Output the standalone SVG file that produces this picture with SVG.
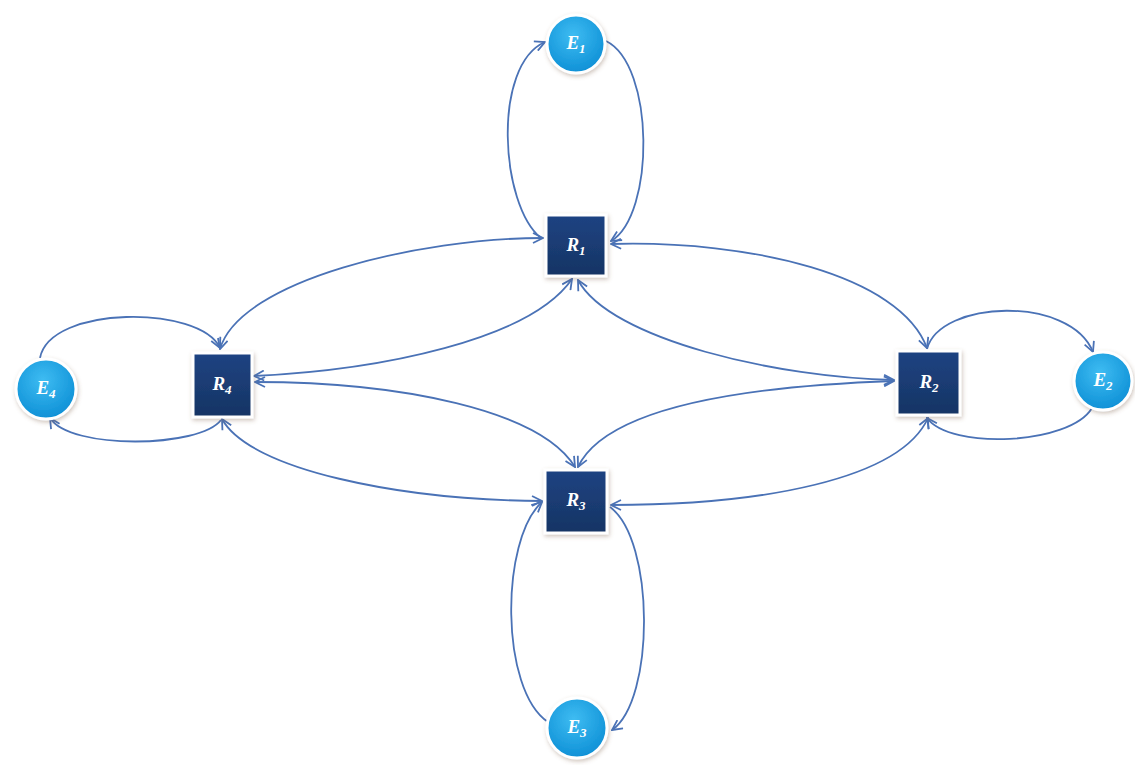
<svg xmlns="http://www.w3.org/2000/svg" width="1135" height="765" viewBox="0 0 1135 765">
<defs>
<style>
.c{fill:none;stroke:#4a72b6;stroke-width:1.8}
.rr{marker-start:url(#ah);marker-end:url(#ah)}
.one{marker-end:url(#ah)}
.r{fill:url(#rg);stroke:#ffffff;stroke-width:3;filter:url(#sh)}
.e{fill:url(#eg);stroke:#ffffff;stroke-width:3;filter:url(#sh)}
.t{font-family:"Liberation Serif","DejaVu Serif",serif;font-style:italic;font-weight:bold;fill:#ffffff;font-size:19px}
.s{font-size:13px}
</style>
<linearGradient id="rg" x1="0" y1="0" x2="0" y2="1">
<stop offset="0" stop-color="#1e4382"/>
<stop offset="1" stop-color="#163464"/>
</linearGradient>
<radialGradient id="eg" cx="0.45" cy="0.35" r="0.7">
<stop offset="0" stop-color="#3ebcf2"/>
<stop offset="1" stop-color="#0b8dd4"/>
</radialGradient>
<filter id="sh" x="-30%" y="-30%" width="160%" height="160%">
<feDropShadow dx="1" dy="2" stdDeviation="2" flood-color="#7a5a40" flood-opacity="0.35"/>
</filter>
<marker id="ah" viewBox="0 0 12 12" refX="11" refY="6" markerWidth="12" markerHeight="12" markerUnits="userSpaceOnUse" orient="auto-start-reverse">
<path d="M1,1 L11,6 L1,11" fill="none" stroke="#4a72b6" stroke-width="1.8"/>
</marker>
</defs>
<rect width="1135" height="765" fill="#ffffff"/>
<g id="connectors">
<path class="c one" d="M541 238 C500 205 492 65 545 42"/>
<path class="c one" d="M606 41 C655 65 655 215 611 241"/>
<path class="c one" d="M927 349 C940 300 1070 295 1093 352"/>
<path class="c one" d="M1092 408 C1070 445 950 450 927 418"/>
<path class="c one" d="M610 507 C655 540 655 700 612 730"/>
<path class="c one" d="M548 722 C500 690 500 540 542 502"/>
<path class="c one" d="M40 358 C50 305 200 305 220 348"/>
<path class="c one" d="M221 420 C200 448 70 450 50 418"/>
<path class="c rr" d="M220 349 C240 280 420 238 543 238"/>
<path class="c rr" d="M254 376 C380 370 530 340 572 279"/>
<path class="c rr" d="M611 244 C750 240 900 275 927 348"/>
<path class="c rr" d="M578 280 C610 340 780 378 894 380"/>
<path class="c rr" d="M255 382 C400 382 540 410 575 467"/>
<path class="c rr" d="M222 419 C250 470 400 500 542 501"/>
<path class="c rr" d="M578 467 C610 400 780 385 894 381"/>
<path class="c rr" d="M611 505 C760 505 900 480 928 418"/>
</g>
<g id="E1"><circle class="e" cx="576" cy="44" r="29"/><text class="t" x="576" y="49" text-anchor="middle">E<tspan class="s" dy="4">1</tspan></text></g>
<g id="E2"><circle class="e" cx="1103" cy="381" r="29"/><text class="t" x="1103" y="386" text-anchor="middle">E<tspan class="s" dy="4">2</tspan></text></g>
<g id="E3"><circle class="e" cx="577" cy="728" r="30"/><text class="t" x="577" y="733" text-anchor="middle">E<tspan class="s" dy="4">3</tspan></text></g>
<g id="E4"><circle class="e" cx="46" cy="389" r="30"/><text class="t" x="46" y="394" text-anchor="middle">E<tspan class="s" dy="4">4</tspan></text></g>
<g id="R1"><rect class="r" x="546" y="215" width="60" height="61"/><text class="t" x="576" y="251" text-anchor="middle">R<tspan class="s" dy="4">1</tspan></text></g>
<g id="R2"><rect class="r" x="897" y="351" width="63" height="64"/><text class="t" x="929" y="388" text-anchor="middle">R<tspan class="s" dy="4">2</tspan></text></g>
<g id="R3"><rect class="r" x="545" y="470" width="62" height="63"/><text class="t" x="576" y="506" text-anchor="middle">R<tspan class="s" dy="4">3</tspan></text></g>
<g id="R4"><rect class="r" x="193" y="353" width="59" height="64"/><text class="t" x="222" y="390" text-anchor="middle">R<tspan class="s" dy="4">4</tspan></text></g>
</svg>
